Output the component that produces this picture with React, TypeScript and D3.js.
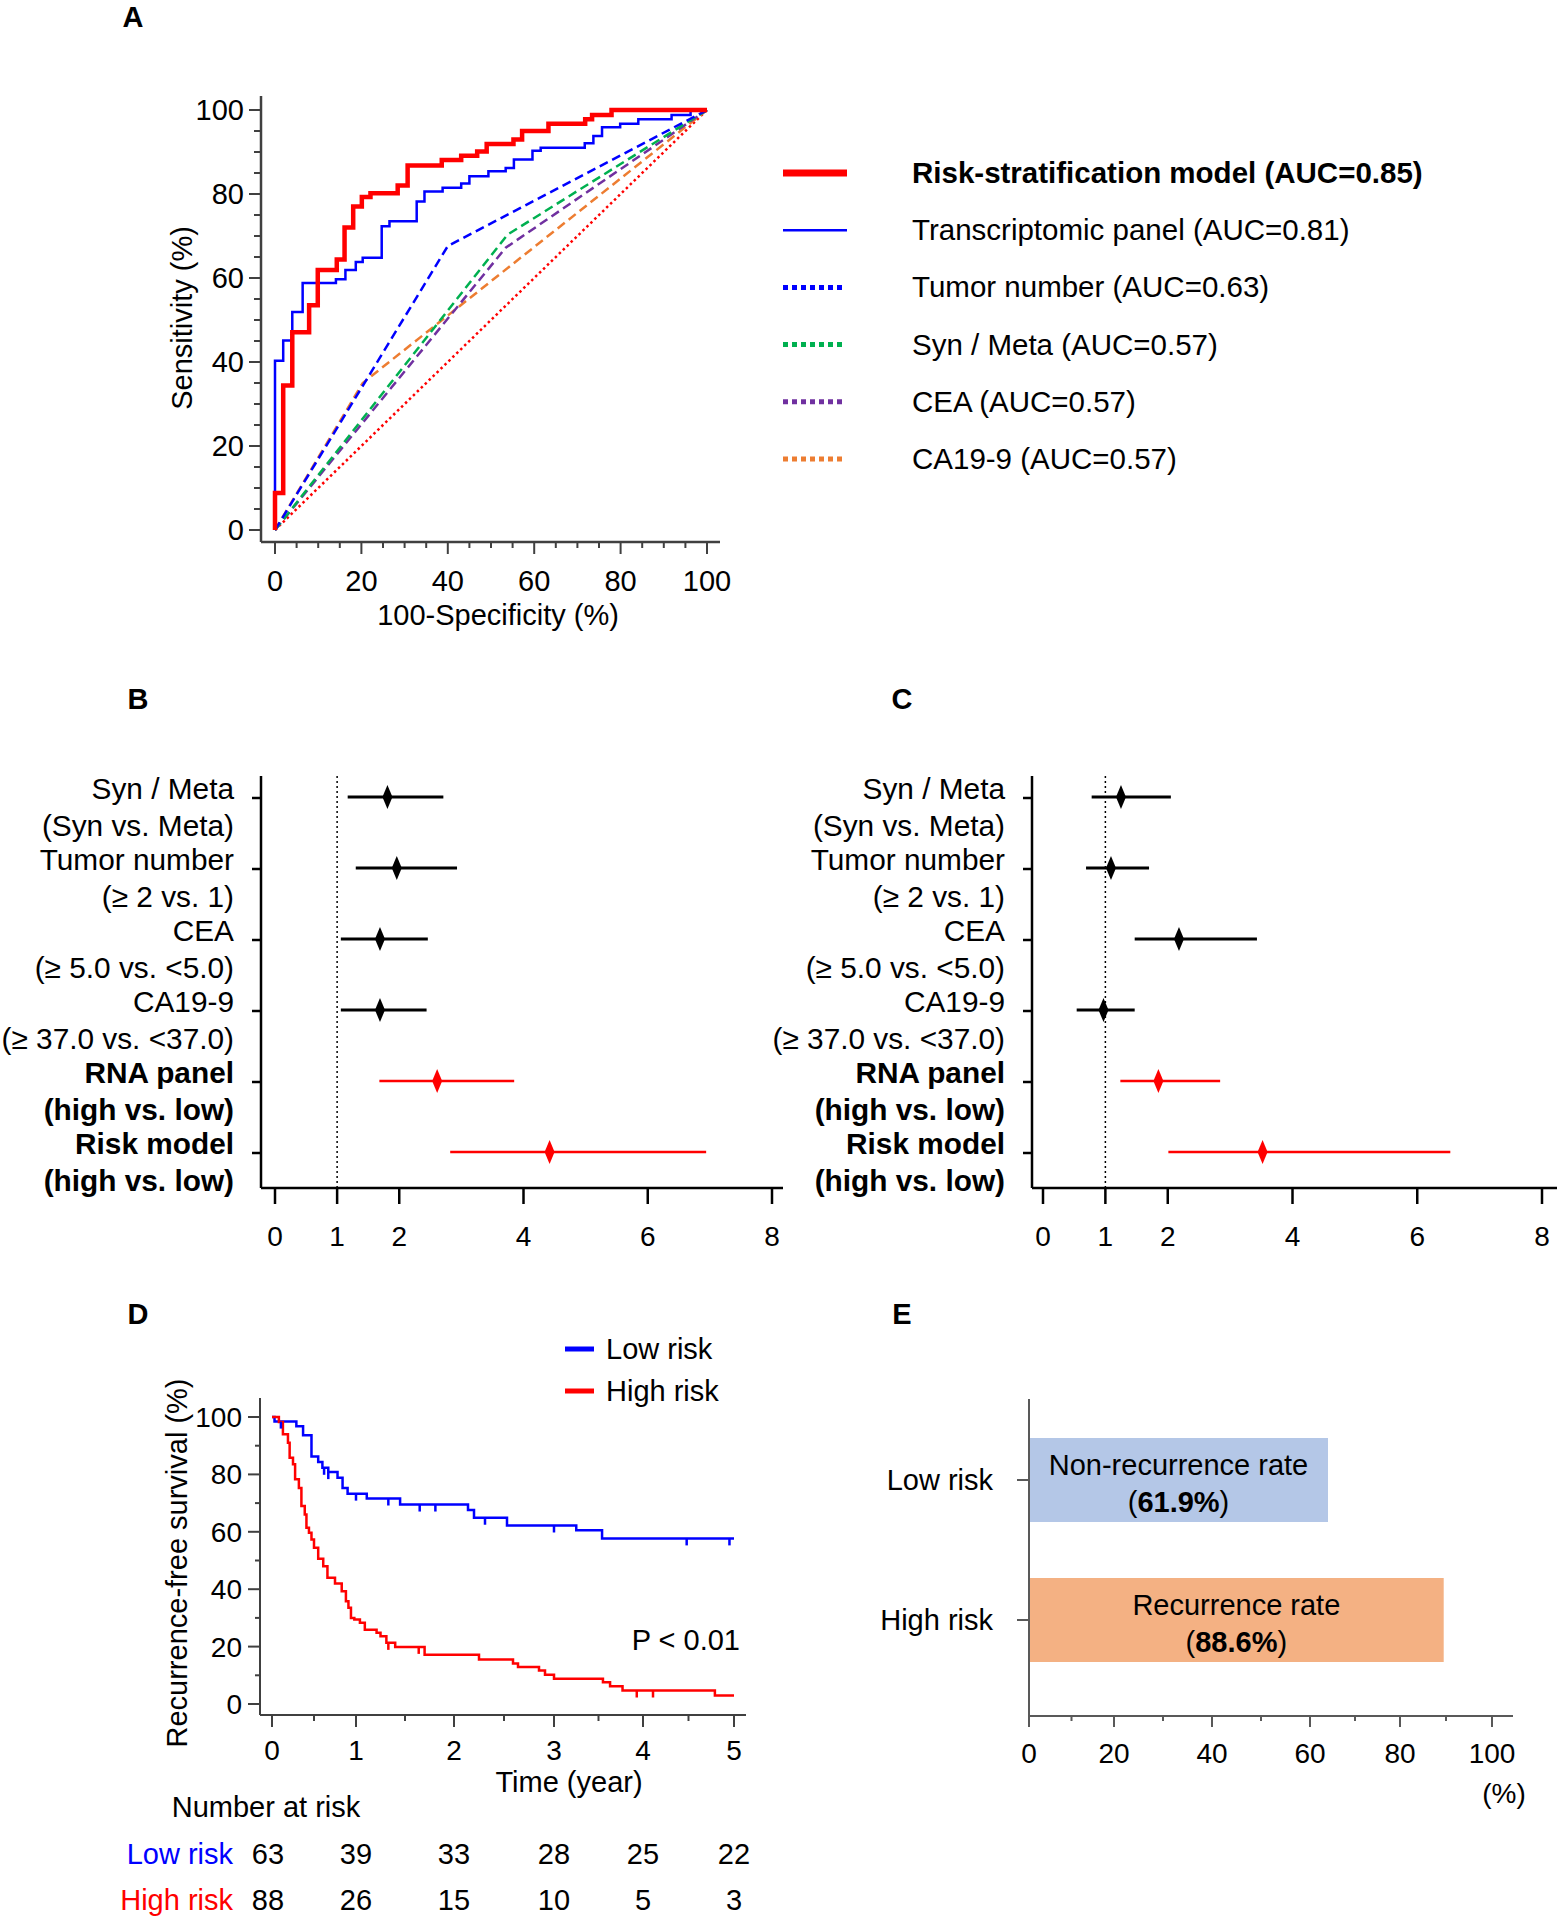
import React from 'react';
import * as d3 from 'd3';

const FONT = "'Liberation Sans', Arial, Helvetica, sans-serif";

// ---------- Panel A : ROC ----------
const rocTicks = [0, 20, 40, 60, 80, 100];
const riskX = [0, 0, 1.9, 4, 7.9, 9.9, 14.3, 16.1, 18.1, 20.1, 22.1, 28.4, 30.7, 38.6, 43.1, 46.8, 49, 55.2, 57.2, 63.3, 71.8, 73.4, 77.9, 100];
const riskY = [0, 8.8, 34.4, 47.1, 53.5, 61.9, 64.4, 72, 77, 79.3, 80.2, 82, 86.8, 88.1, 89.1, 90.1, 91.9, 93, 95, 96.7, 97.8, 98.8, 100, 100];
const transX = [0, 0, 1.9, 4, 6.4, 14.1, 16.3, 18.7, 20.3, 24.7, 26.5, 32.8, 34.6, 38.8, 43.1, 45, 49.4, 53.4, 55.3, 59.6, 61.5, 71.7, 73.7, 75.7, 79.9, 84.1, 91.8, 96.2, 100];
const transY = [0, 40.3, 45.1, 51.9, 58.8, 59.7, 61.9, 63.8, 64.8, 72.3, 73.5, 78.2, 80.6, 81.5, 82.5, 84.2, 85.4, 86.2, 88.2, 90.3, 91, 92.1, 93.8, 95.9, 96.7, 97.8, 98.8, 100, 100];
const tumorX = [0, 40, 100];
const tumorY = [0, 67.6, 100];
const synX = [0, 53.8, 100];
const synY = [0, 70.3, 100];
const ceaX = [0, 53.4, 100];
const ceaY = [0, 67.2, 100];
const caX = [0, 20.3, 100];
const caY = [0, 35, 100];
const diagX = [0, 100];
const diagY = [0, 100];
const rocLegend = [
  'Risk-stratification model (AUC=0.85)',
  'Transcriptomic panel (AUC=0.81)',
  'Tumor number (AUC=0.63)',
  'Syn / Meta (AUC=0.57)',
  'CEA (AUC=0.57)',
  'CA19-9 (AUC=0.57)',
];
const rocColors = ['#FF0000', '#0000FF', '#0000FF', '#00B050', '#7030A0', '#ED7D31'];

// ---------- Panels B & C : forest ----------
const forestLine1 = ['Syn / Meta', 'Tumor number', 'CEA', 'CA19-9', 'RNA panel', 'Risk model'];
const forestLine2 = ['(Syn vs. Meta)', '(\u2265 2 vs. 1)', '(\u2265 5.0 vs. <5.0)', '(\u2265 37.0 vs. <37.0)', '(high vs. low)', '(high vs. low)'];
const forestBold = [false, false, false, false, true, true];
const forestTicks = [0, 1, 2, 4, 6, 8];
const bEst = [1.81, 1.96, 1.69, 1.69, 2.61, 4.42];
const bLo = [1.17, 1.30, 1.06, 1.06, 1.68, 2.82];
const bHi = [2.71, 2.93, 2.46, 2.44, 3.85, 6.94];
const cEst = [1.25, 1.09, 2.18, 0.97, 1.85, 3.52];
const cLo = [0.78, 0.69, 1.47, 0.54, 1.24, 2.01];
const cHi = [2.05, 1.70, 3.43, 1.47, 2.84, 6.53];

// ---------- Panel D : Kaplan-Meier ----------
const kmTicksX = [0, 1, 2, 3, 4, 5];
const kmTicksY = [0, 20, 40, 60, 80, 100];
const lowT = [0, 0.03, 0.29, 0.37, 0.47, 0.55, 0.60, 0.67, 0.78, 0.84, 0.90, 1.11, 1.45, 2.14, 2.20, 2.53, 3.25, 3.54, 5.0];
const lowS = [100, 98.4, 96.8, 93.6, 86.2, 84.3, 82.3, 80.8, 78.8, 75.3, 73.3, 71.6, 69.5, 67.6, 64.9, 62.2, 60.5, 57.7, 57.7];
const lowCensT = [0.106, 0.62, 0.67, 1.0, 1.33, 1.65, 1.81, 2.31, 3.0, 4.48, 4.95];
const lowCensS = [98.4, 82.3, 80.8, 73.3, 71.6, 69.5, 69.5, 64.9, 62.2, 57.7, 57.7];
const highT = [0, 0.082, 0.13, 0.19, 0.21, 0.25, 0.275, 0.32, 0.35, 0.39, 0.41, 0.44, 0.47, 0.50, 0.55, 0.61, 0.66, 0.75, 0.83, 0.88, 0.91, 0.94, 0.98, 1.04, 1.09, 1.21, 1.25, 1.31, 1.40, 1.70, 2.25, 2.59, 2.64, 2.85, 2.91, 3.0, 3.55, 3.63, 3.77, 4.79, 5.0];
const highS = [100, 98.3, 94, 91, 85.8, 83.5, 78.3, 75.3, 69, 66, 61.4, 59.7, 57.3, 54.4, 50.6, 48, 44, 42, 39.3, 35.8, 33.5, 30, 29.4, 28.3, 25.9, 24.8, 23.6, 21.3, 19.9, 17.2, 15.5, 14.1, 12.9, 11.7, 10.2, 8.8, 7.6, 6.2, 4.7, 3.0, 3.0];
const highCensT = [1.33, 1.64, 3.93, 4.11];
const highCensS = [21.3, 19.9, 4.7, 4.7];
const riskLow = [63, 39, 33, 28, 25, 22];
const riskHigh = [88, 26, 15, 10, 5, 3];
const kmGroups = ['Low risk', 'High risk'];

// ---------- Panel E : bars ----------
const barCats = ['Low risk', 'High risk'];
const barValues = [64, 89.5];
const barTitles = ['Non-recurrence rate', 'Recurrence rate'];
const barPct = ['61.9%', '88.6%'];
const barColors = ['#B4C7E7', '#F4B183'];
const barTicks = [0, 20, 40, 60, 80, 100];

const zip = (a: number[], b: number[]) => a.map((v, i) => [v, b[i]] as [number, number]);

const LETTER = 29;

function PanelA() {
  const x = d3.scaleLinear().domain([0, 100]).range([275, 707]);
  const y = d3.scaleLinear().domain([0, 100]).range([530, 110]);
  const step = d3.line<[number, number]>().x(d => x(d[0])).y(d => y(d[1])).curve(d3.curveStepAfter);
  const lin = d3.line<[number, number]>().x(d => x(d[0])).y(d => y(d[1]));
  const axisX = 261, axisY = 542;
  const minor = d3.range(0, 101, 5);
  const ac = '#404040';
  const legendY = d3.scalePoint<number>().domain(d3.range(6)).range([173, 459]);
  return (
    <g fontFamily={FONT}>
      <text x={133} y={27} fontSize={LETTER} fontWeight="bold" textAnchor="middle">A</text>
      <line x1={axisX} x2={axisX} y1={96} y2={axisY} stroke={ac} strokeWidth={2.5} />
      <line x1={axisX} x2={720} y1={axisY} y2={axisY} stroke={ac} strokeWidth={2.5} />
      {minor.map(v => (
        <line key={'ym' + v} x1={axisX} x2={axisX - (v % 20 === 0 ? 12 : 7)} y1={y(v)} y2={y(v)} stroke={ac} strokeWidth={2} />
      ))}
      {minor.map(v => (
        <line key={'xm' + v} x1={x(v)} x2={x(v)} y1={axisY} y2={axisY + (v % 20 === 0 ? 12 : 6)} stroke={ac} strokeWidth={2} />
      ))}
      {rocTicks.map(v => (
        <text key={'yl' + v} x={244} y={y(v) + 10} fontSize={29} textAnchor="end">{v}</text>
      ))}
      {rocTicks.map(v => (
        <text key={'xl' + v} x={x(v)} y={591} fontSize={29} textAnchor="middle">{v}</text>
      ))}
      <text x={498} y={625} fontSize={29} textAnchor="middle">100-Specificity (%)</text>
      <text transform="translate(192,318) rotate(-90)" fontSize={29} textAnchor="middle">Sensitivity (%)</text>
      <path d={lin(zip(diagX, diagY)) || ''} fill="none" stroke="#FF0000" strokeWidth={2.5} strokeDasharray="2.5,3" />
      <path d={lin(zip(caX, caY)) || ''} fill="none" stroke={rocColors[5]} strokeWidth={2.5} strokeDasharray="9,5" />
      <path d={lin(zip(ceaX, ceaY)) || ''} fill="none" stroke={rocColors[4]} strokeWidth={2.5} strokeDasharray="9,5" />
      <path d={lin(zip(synX, synY)) || ''} fill="none" stroke={rocColors[3]} strokeWidth={2.5} strokeDasharray="9,5" />
      <path d={lin(zip(tumorX, tumorY)) || ''} fill="none" stroke={rocColors[2]} strokeWidth={2.5} strokeDasharray="9,5" />
      <path d={step(zip(transX, transY)) || ''} fill="none" stroke={rocColors[1]} strokeWidth={2.5} />
      <path d={step(zip(riskX, riskY)) || ''} fill="none" stroke={rocColors[0]} strokeWidth={4.5} />
      {rocLegend.map((t, i) => {
        const ly = legendY(i) as number;
        const sw = i === 0 ? 7 : i === 1 ? 2.5 : 5;
        const dash = i >= 2 ? '5,4' : undefined;
        return (
          <g key={'lg' + i}>
            <line x1={783} x2={i >= 2 ? 845 : 847} y1={ly} y2={ly} stroke={rocColors[i]} strokeWidth={sw} strokeDasharray={dash} />
            <text x={912} y={ly + 10} fontSize={29.5} fontWeight={i === 0 ? 'bold' : 'normal'}>{t}</text>
          </g>
        );
      })}
    </g>
  );
}

function Forest({ label, labelX, axisX, x0, x8, axisEnd, est, lo, hi }: any) {
  const x = d3.scaleLinear().domain([0, 8]).range([x0, x8]);
  const y = d3.scalePoint<number>().domain(d3.range(6)).range([798, 1153]);
  const top = 776, bottom = 1188;
  return (
    <g fontFamily={FONT}>
      <text x={label.x} y={709} fontSize={LETTER} fontWeight="bold" textAnchor="middle">{label.t}</text>
      <line x1={axisX} x2={axisX} y1={top} y2={bottom} stroke="#000" strokeWidth={2.5} />
      <line x1={axisX} x2={axisEnd} y1={bottom} y2={bottom} stroke="#000" strokeWidth={2.5} />
      {forestTicks.map(v => (
        <g key={'t' + v}>
          <line x1={x(v)} x2={x(v)} y1={bottom} y2={bottom + 16} stroke="#000" strokeWidth={2.5} />
          <text x={x(v)} y={1246} fontSize={28} textAnchor="middle">{v}</text>
        </g>
      ))}
      <line x1={x(1)} x2={x(1)} y1={top} y2={bottom} stroke="#000" strokeWidth={1.5} strokeDasharray="2,3" />
      {forestLine1.map((t, i) => {
        const yy = y(i) as number;
        const col = forestBold[i] ? '#FF0000' : '#000';
        return (
          <g key={'r' + i}>
            <line x1={axisX - 9} x2={axisX} y1={yy} y2={yy} stroke="#000" strokeWidth={2.5} />
            <text x={labelX} y={yy + 1} fontSize={29.8} textAnchor="end" fontWeight={forestBold[i] ? 'bold' : 'normal'}>{t}</text>
            <text x={labelX} y={yy + 38} fontSize={29.8} textAnchor="end" fontWeight={forestBold[i] ? 'bold' : 'normal'}>{forestLine2[i]}</text>
            <line x1={x(lo[i])} x2={x(hi[i])} y1={yy - 1} y2={yy - 1} stroke={col} strokeWidth={forestBold[i] ? 2.5 : 3} />
            <path d={`M${x(est[i])},${yy - 13}L${x(est[i]) + 5},${yy - 1}L${x(est[i])},${yy + 11}L${x(est[i]) - 5},${yy - 1}Z`} fill={col} />
          </g>
        );
      })}
    </g>
  );
}

function PanelD() {
  const x = d3.scaleLinear().domain(kmTicksX).range([272, 356, 454, 554, 643, 734]);
  const y = d3.scaleLinear().domain([0, 100]).range([1704, 1417]);
  const step = d3.line<[number, number]>().x(d => x(d[0])).y(d => y(d[1])).curve(d3.curveStepAfter);
  const ax = 260, ay = 1715;
  const ac = '#404040';
  const low = '#0000FF', high = '#FF0000';
  return (
    <g fontFamily={FONT}>
      <text x={138} y={1324} fontSize={LETTER} fontWeight="bold" textAnchor="middle">D</text>
      <line x1={ax} x2={ax} y1={1398} y2={ay} stroke={ac} strokeWidth={2} />
      <line x1={ax} x2={746} y1={ay} y2={ay} stroke={ac} strokeWidth={2} />
      {d3.range(0, 101, 10).map(v => (
        <line key={'ym' + v} x1={ax} x2={ax - (v % 20 === 0 ? 12 : 5)} y1={y(v)} y2={y(v)} stroke={ac} strokeWidth={2} />
      ))}
      {d3.range(0, 5.01, 0.5).map(v => (
        <line key={'xm' + v} x1={x(v)} x2={x(v)} y1={ay} y2={ay + (Math.abs(v % 1) < 1e-6 ? 12 : 6)} stroke={ac} strokeWidth={2} />
      ))}
      {kmTicksY.map(v => (
        <text key={'yl' + v} x={242} y={y(v) + 10} fontSize={28} textAnchor="end">{v}</text>
      ))}
      {kmTicksX.map(v => (
        <text key={'xl' + v} x={x(v)} y={1760} fontSize={28} textAnchor="middle">{v}</text>
      ))}
      <text x={569} y={1792} fontSize={29} textAnchor="middle">Time (year)</text>
      <text transform="translate(187,1563) rotate(-90)" fontSize={29} textAnchor="middle">Recurrence-free survival (%)</text>
      <path d={step(zip(lowT, lowS)) || ''} fill="none" stroke={low} strokeWidth={2.5} />
      <path d={step(zip(highT, highS)) || ''} fill="none" stroke={high} strokeWidth={2.5} />
      {lowCensT.map((t, i) => (
        <line key={'lc' + i} x1={x(t)} x2={x(t)} y1={y(lowCensS[i])} y2={y(lowCensS[i]) + 7} stroke={low} strokeWidth={2.5} />
      ))}
      {highCensT.map((t, i) => (
        <line key={'hc' + i} x1={x(t)} x2={x(t)} y1={y(highCensS[i])} y2={y(highCensS[i]) + 7} stroke={high} strokeWidth={2.5} />
      ))}
      {kmGroups.map((g, i) => (
        <g key={'kl' + i}>
          <line x1={565} x2={594} y1={1349 + i * 42} y2={1349 + i * 42} stroke={i === 0 ? low : high} strokeWidth={5} />
          <text x={606} y={1359 + i * 42} fontSize={29}>{g}</text>
        </g>
      ))}
      <text x={740} y={1650} fontSize={29} textAnchor="end">P &lt; 0.01</text>
      <text x={266} y={1817} fontSize={29} textAnchor="middle">Number at risk</text>
      <text x={233} y={1864} fontSize={29} textAnchor="end" fill={low}>Low risk</text>
      <text x={233} y={1910} fontSize={29} textAnchor="end" fill={high}>High risk</text>
      {riskLow.map((n, i) => (
        <text key={'nl' + i} x={x(kmTicksX[i]) - (i === 0 ? 4 : 0)} y={1864} fontSize={29} textAnchor="middle">{n}</text>
      ))}
      {riskHigh.map((n, i) => (
        <text key={'nh' + i} x={x(kmTicksX[i]) - (i === 0 ? 4 : 0)} y={1910} fontSize={29} textAnchor="middle">{n}</text>
      ))}
    </g>
  );
}

function PanelE() {
  const x = d3.scaleLinear().domain(barTicks).range([1029, 1114, 1212, 1310, 1400, 1492]);
  const y = d3.scalePoint<string>().domain(barCats).range([1480, 1620]);
  const ax = 1029, ay = 1716;
  const ac = '#595959';
  const bh = 84;
  return (
    <g fontFamily={FONT}>
      <text x={902} y={1324} fontSize={LETTER} fontWeight="bold" textAnchor="middle">E</text>
      {barCats.map((c, i) => {
        const cy = y(c) as number;
        const cx = (x(0) + x(barValues[i])) / 2;
        return (
          <g key={c}>
            <rect x={x(0)} y={cy - bh / 2} width={x(barValues[i]) - x(0)} height={bh} fill={barColors[i]} />
            <line x1={ax - 12} x2={ax} y1={cy} y2={cy} stroke={ac} strokeWidth={2} />
            <text x={993} y={cy + 10} fontSize={29} textAnchor="end">{c}</text>
            <text x={cx} y={cy - 5} fontSize={29} textAnchor="middle">{barTitles[i]}</text>
            <text x={cx} y={cy + 32} fontSize={29} textAnchor="middle">(<tspan fontWeight="bold">{barPct[i]}</tspan>)</text>
          </g>
        );
      })}
      <line x1={ax} x2={ax} y1={1399} y2={ay} stroke={ac} strokeWidth={2} />
      <line x1={ax} x2={1513} y1={ay} y2={ay} stroke={ac} strokeWidth={2} />
      {d3.range(0, 101, 10).map(v => (
        <line key={'xm' + v} x1={x(v)} x2={x(v)} y1={ay} y2={ay + (v % 20 === 0 ? 11 : 5)} stroke={ac} strokeWidth={2} />
      ))}
      {barTicks.map(v => (
        <text key={'xl' + v} x={x(v)} y={1763} fontSize={28} textAnchor="middle">{v}</text>
      ))}
      <text x={1504} y={1803} fontSize={28} textAnchor="middle">(%)</text>
    </g>
  );
}

export default function App() {
  return (
    <svg width={1557} height={1920} style={{ position: 'absolute', left: 0, top: 0, background: '#fff' }}>
      <rect width={1557} height={1920} fill="#fff" />
      <PanelA />
      <Forest label={{ t: 'B', x: 138 }} labelX={234} axisX={261} x0={275} x8={772} axisEnd={783} est={bEst} lo={bLo} hi={bHi} />
      <Forest label={{ t: 'C', x: 902 }} labelX={1005} axisX={1032} x0={1043} x8={1542} axisEnd={1557} est={cEst} lo={cLo} hi={cHi} />
      <PanelD />
      <PanelE />
    </svg>
  );
}
